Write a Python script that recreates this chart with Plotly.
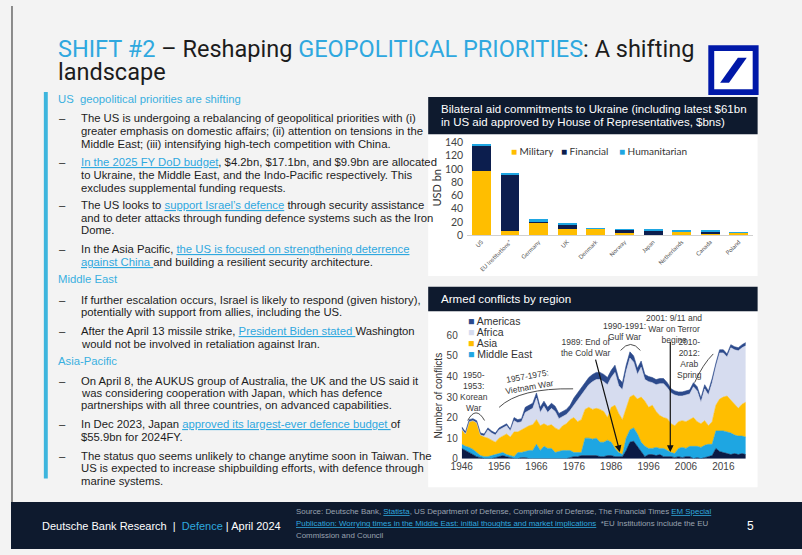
import plotly.graph_objects as go

# ---------------- data ----------------
countries = ["US", "EU Institutions*", "Germany", "UK", "Denmark", "Norway",
             "Japan", "Netherlands", "Canada", "Poland"]
military = [97.5, 6.5, 18.8, 10.0, 9.4, 4.0, 0.1, 4.5, 2.4, 3.3]
financial = [36.5, 84.0, 1.4, 6.3, 0.0, 4.0, 6.0, 0.6, 3.5, 0.4]
humanitarian = [3.5, 3.0, 3.6, 0.5, 0.2, 0.3, 2.2, 1.3, 0.3, 0.1]

years = list(range(1946, 2023))
europe = [5, 4, 3, 2, 1, 0.5, 0, 0, 0, 0.5,
          1, 1.5, 1, 0.5, 0, 0, 0.5, 0.5, 0, 0,
          0, 0, 0, 0, 0, 0, 0, 0, 0, 0.5,
          1, 1, 1.5, 1.5, 1.5, 1.5, 1.5, 1, 1, 1.5,
          1.5, 1, 1, 1, 4, 8, 8.5, 6, 3, 1,
          2, 2, 1.5, 2, 1, 1, 1, 0.5, 1, 0.5,
          1, 1, 0, 0.5, 0, 0.5, 1, 1.5, 5, 3.5,
          3, 2.5, 2, 2.5, 2, 2.5, 2]
middle_east = [2, 2, 2.5, 2.5, 2, 1, 1, 1, 1.5, 1.5,
               1.5, 1.5, 1, 1, 1, 3, 2.5, 3, 4, 4,
               7, 4, 6, 5, 5, 3, 3.5, 4, 4, 3.5,
               2, 2, 1.5, 8.5, 8.5, 8, 8.5, 7, 7, 7.5,
               6.5, 4, 2, 1, 6, 6, 6.5, 6, 5, 5,
               3, 3, 4, 3, 4, 3, 2, 2, 4, 5,
               4, 5, 6, 5.5, 5.5, 6, 6, 5.5, 8.5, 10,
               10.5, 10.5, 10.5, 9, 9, 8.5, 8.5]
asia = [7, 6, 12.5, 14, 14.5, 10, 9.5, 9, 7.5, 6,
        7.5, 8, 10, 9, 12, 10, 11, 11.5, 12, 12.5,
        12, 12, 11, 11, 11.5, 12, 10.5, 12, 13, 15,
        17, 15, 16, 14, 15, 14.5, 14.5, 16, 15, 11,
        17, 21, 19, 17, 14, 16, 16, 17, 22, 22,
        20, 21, 17.5, 16, 15, 15.5, 14, 13.5, 13, 13,
        13, 13, 14, 12, 11.5, 12, 9, 11, 12.5, 15.5,
        16.5, 17.5, 16, 15.5, 13.5, 15.5, 17]
africa = [0.5, 0, 0, 0, 0, 0, 0.5, 4, 3.5, 3.5,
          4, 4, 4, 3, 5.5, 4.5, 4, 7.5, 7.5, 8,
          10.5, 6.5, 8.5, 6.5, 8, 8, 5.5, 4.5, 4.5, 4.5,
          6, 10.5, 12, 9.5, 11, 13.5, 14, 14.5, 14.5, 16,
          14.5, 16, 13.5, 14.5, 18.5, 19, 16, 12, 14.5, 10.5,
          12.5, 11, 13, 15.5, 16.5, 15, 15, 15, 12.5, 12,
          13, 12.5, 15, 15, 10.5, 15.5, 15, 19, 19, 22.5,
          21.5, 19, 25.5, 26, 28, 27.5, 27.5]
americas = [1, 1, 1, 1, 1, 1, 1, 1, 1, 1,
            1, 1, 1, 1, 1.5, 1.5, 1.5, 2.5, 2.5, 2.5,
            2.5, 2.5, 2.5, 2.5, 2.5, 2.5, 2.5, 2.5, 2.5, 2.5,
            3.5, 3.5, 3.5, 3.5, 3.5, 3.5, 3.5, 3.5, 3.5, 3.5,
            3.5, 3.5, 3.5, 3.5, 3, 3, 3, 3, 3, 2.5,
            2.5, 2.5, 2.5, 2.5, 2.5, 2.5, 2, 2, 2, 2,
            2, 2, 2, 2, 2, 2, 2, 2, 1.5, 1.5,
            1.5, 1.5, 1.5, 1.5, 1.5, 1.5, 1.5]
area_ticks = list(range(1946, 2017, 10))

# ---------------- styling ----------------
W, H = 802, 555
NARROW = "Liberation Sans Narrow, Arial Narrow, sans-serif"
LATO = "Lato, sans-serif"
BLUE = "#2fa8df"
NAVY = "#0e1a2e"
TXT = "#1c1c1c"
GOLD = "#FFBE00"
DARKBAR = "#0c1e4e"
LIGHTBLUE = "#1ea6e2"


def px(x):
    return x / W


def py(y):
    return 1 - y / H


fig = go.Figure()

# Bar chart
for name, vals, col in [("Military", military, GOLD),
                        ("Financial", financial, DARKBAR),
                        ("Humanitarian", humanitarian, LIGHTBLUE)]:
    fig.add_trace(go.Bar(x=countries, y=vals, name=name, marker_color=col,
                         marker_line_width=0, width=0.66, showlegend=False,
                         xaxis="x", yaxis="y"))

# Area chart (stacked)
for name, vals, col in [("Europe", europe, "#0a1a45"),
                        ("Middle East", middle_east, LIGHTBLUE),
                        ("Asia", asia, GOLD),
                        ("Africa", africa, "#d6dcef"),
                        ("Americas", americas, "#2c4a8c")]:
    fig.add_trace(go.Scatter(x=years, y=vals, name=name, stackgroup="one",
                             mode="lines", line=dict(width=0.6, color=col),
                             fillcolor=col, showlegend=False,
                             xaxis="x2", yaxis="y2"))

shapes = []


def rect(x0, y0, x1, y1, color, layer="below"):
    shapes.append(dict(type="rect", xref="paper", yref="paper",
                       x0=px(x0), x1=px(x1), y0=py(y1), y1=py(y0),
                       fillcolor=color, line=dict(width=0), layer=layer))


# panels
rect(423, 131, 757, 276, "white")
rect(423, 93, 757, 131, NAVY)
rect(423, 312, 757, 492, "white")
rect(423, 287, 757, 312, NAVY)
rect(33.3, 88, 37.3, 483, "#3db5dd")
rect(0, 507, 802, 555, NAVY, "above")
rect(0, 0, 2, 507, "#8a8a8a")
# logo
rect(707, 40, 758, 91, "#0018a8", "above")
rect(713, 46, 752, 85, "white", "above")
shapes.append(dict(type="path", xref="paper", yref="paper", layer="above",
                   path="M {} {} L {} {} L {} {} L {} {} Z".format(
                       px(719), py(78.5), px(728), py(78.5),
                       px(746), py(53), px(737), py(53)),
                   fillcolor="#0018a8", line=dict(width=0)))

# arcs on area chart (data coordinates)
ARC = dict(color="#3a3a3a", width=0.9)
shapes.append(dict(type="path", xref="x2", yref="y2", line=ARC,
                   path="M 1947.6,18.6 Q 1949.8,26 1952.1,18.6"))
shapes.append(dict(type="path", xref="x2", yref="y2", line=ARC,
                   path="M 1956.0,25.0 Q 1961.5,34.5 1975.8,34.0"))
shapes.append(dict(type="path", xref="x2", yref="y2", line=ARC,
                   path="M 1988.5,52.7 Q 1991.2,58.5 1993.8,52.7"))
shapes.append(dict(type="path", xref="x2", yref="y2", line=ARC,
                   path="M 2008.3,37 Q 2010.5,46 2013.3,51"))

ann = []


def text(x, y, t, size=11.3, color=TXT, font=NARROW, xanchor="left", **kw):
    d = dict(xref="paper", yref="paper", x=px(x), y=py(y), text=t,
             showarrow=False, xanchor=xanchor, yanchor="middle",
             font=dict(family=font, size=size, color=color))
    d.update(kw)
    ann.append(d)


def link(s):
    return "<span style='color:{};text-decoration:underline'>{}</span>".format(BLUE, s)


def blue(s):
    return "<span style='color:{}'>{}</span>".format(BLUE, s)


# title
TITLE_FONT = "Roboto, sans-serif"
text(46, 44, blue("SHIFT #2") + " – Reshaping " + blue("GEOPOLITICAL PRIORITIES") + ": A shifting",
     size=23.5, font=TITLE_FONT)
text(46, 67, "landscape", size=23.5, font=TITLE_FONT)

# left text block
lines = [
    (95, "h", "US  geopolitical priorities are shifting"),
    (114, "b", "The US is undergoing a rebalancing of geopolitical priorities with (i)"),
    (127.7, "c", "greater emphasis on domestic affairs; (ii) attention on tensions in the"),
    (141, "c", "Middle East; (iii) intensifying high-tech competition with China."),
    (159, "b", link("In the 2025 FY DoD budget") + ", $4.2bn, $17.1bn, and $9.9bn are allocated"),
    (172.7, "c", "to Ukraine, the Middle East, and the Indo-Pacific respectively. This"),
    (185.7, "c", "excludes supplemental funding requests."),
    (203.3, "b", "The US looks to " + link("support Israel’s defence") + " through security assistance"),
    (216.7, "c", "and to deter attacks through funding defence systems such as the Iron"),
    (229.3, "c", "Dome."),
    (248.3, "b", "In the Asia Pacific, " + link("the US is focused on strengthening deterrence")),
    (261.7, "c", link("against China ") + "and building a resilient security architecture."),
    (279, "h", "Middle East"),
    (300, "b", "If further escalation occurs, Israel is likely to respond (given history),"),
    (312.7, "c", "potentially with support from allies, including the US."),
    (331.7, "b", "After the April 13 missile strike, " + link("President Biden stated ") + "Washington"),
    (345, "c", "would not be involved in retaliation against Iran."),
    (363.3, "h", "Asia-Pacific"),
    (383.3, "b", "On April 8, the AUKUS group of Australia, the UK and the US said it"),
    (396, "c", "was considering cooperation with Japan, which has defence"),
    (408.3, "c", "partnerships with all three countries, on advanced capabilities."),
    (427.7, "b", "In Dec 2023, Japan " + link("approved its largest-ever defence budget ") + "of"),
    (441, "c", "$55.9bn for 2024FY."),
    (460, "b", "The status quo seems unlikely to change anytime soon in Taiwan. The"),
    (472.3, "c", "US is expected to increase shipbuilding efforts, with defence through"),
    (485.7, "c", "marine systems."),
]
for y, kind, t in lines:
    if kind == "h":
        text(46, y, t, color="#3ab0e0")
    else:
        if kind == "b":
            text(46.5, y, "–")
        text(69.3, y, t)

# chart headers
text(434, 105, "Bilateral aid commitments to Ukraine (including latest $61bn", size=11.5, color="white")
text(434, 118.3, "in US aid approved by House of Representatives, $bns)", size=11.5, color="white")
text(434, 299.3, "Armed conflicts by region", size=11.6, color="white")

# bar chart legend + axis title
for xs, col, name in [(505, GOLD, "Military"), (556, DARKBAR, "Financial"), (614, LIGHTBLUE, "Humanitarian")]:
    text(xs, 148, "<span style='color:{}'>■</span> {}".format(col, name), size=10, font=LATO, color="#333333")
text(431.5, 186, "USD bn", size=11, font=LATO, color="#333333", xanchor="center", textangle=-90)

# area chart legend + axis title
for yy, col, name in [(321.7, "#2c4a8c", "Americas"), (333, "#d6dcef", "Africa"),
                      (344.3, GOLD, "Asia"), (355.7, LIGHTBLUE, "Middle East")]:
    text(461, yy, "<span style='color:{}'>■</span> {}".format(col, name), size=10.5, color="#333333")
text(433, 398, "Number of conflicts", size=10, color="#333333", xanchor="center", textangle=-90)

# area chart event annotations (data coords)
AN = dict(family=NARROW, size=8.5, color="#3a3a3a")


def dtext(x, y, t, **kw):
    d = dict(xref="x2", yref="y2", x=x, y=y, text=t, showarrow=False,
             xanchor="center", yanchor="middle", font=AN, align="center")
    d.update(kw)
    ann.append(d)


dtext(1949.4, 32.6, "1950-<br>1953:<br>Korean<br>War")
dtext(1963.9, 37.8, "1957-1975:<br>Vietnam War", textangle=-10)
dtext(1979.1, 54.0, "1989: End of<br>the Cold War")
dtext(1989.5, 61.8, "1990-1991:<br>Gulf War")
dtext(2002.9, 63.2, "2001: 9/11 and<br>War on Terror<br>begins")
dtext(2006.9, 49.0, "2010-<br>2012:<br>Arab<br>Spring")


def arrow(x, y, axv, ayv):
    ann.append(dict(xref="x2", yref="y2", axref="x2", ayref="y2", x=x, y=y,
                    ax=axv, ay=ayv, text="", showarrow=True, arrowhead=2,
                    arrowsize=1.1, arrowwidth=1.2, arrowcolor="#111111"))


arrow(1988.3, 3.3, 1981.7, 48.9)
arrow(2001.8, 3.3, 2001.8, 57.6)

# footer
text(29, 531, "Deutsche Bank Research  |  " + blue("Defence") + " | April 2024", size=11, color="white")
SRC = "#9aa3b0"
text(287, 517, "Source: Deutsche Bank, " + link("Statista") +
     ", US Department of Defense, Comptroller of Defense, The Financial Times " + link("EM Special"),
     size=7.9, color=SRC)
text(287, 529, link("Publication: Worrying times in the Middle East: initial thoughts and market implications") +
     "  *EU Institutions include the EU", size=7.9, color=SRC)
text(287, 541, "Commission and Council", size=7.9, color=SRC)
text(750, 531, "5", size=12, color="white", xanchor="center")

fig.update_layout(
    width=W, height=H, margin=dict(l=0, r=0, t=0, b=0),
    paper_bgcolor="#f3f3f3", plot_bgcolor="rgba(0,0,0,0)",
    barmode="stack", bargap=0.34,
    shapes=shapes, annotations=ann,
    xaxis=dict(domain=[px(462.5), px(752.5)], anchor="y", type="category",
               range=[-0.5, 9.5], tickangle=-45, tickfont=dict(family=LATO, size=6, color="#555555"),
               showline=True, linecolor="#d0d0d0", linewidth=1, ticks="", showgrid=False,
               fixedrange=True),
    yaxis=dict(domain=[py(234.3), py(139.3)], anchor="x", range=[0, 140], dtick=20,
               tickfont=dict(family=LATO, size=10.5, color="#444444"), showgrid=False,
               zeroline=False, showline=False, ticks="", ticklabelstandoff=3),
    xaxis2=dict(domain=[px(457), px(745)], anchor="y2", range=[1946, 2022],
                tickvals=area_ticks, tickfont=dict(family=NARROW, size=10, color="#444444"),
                showgrid=False, zeroline=False, showline=False, ticks=""),
    yaxis2=dict(domain=[py(462.7), py(328.3)], anchor="x2", range=[0, 64], dtick=10,
                tickfont=dict(family=NARROW, size=10, color="#444444"), showgrid=False,
                zeroline=False, showline=False, ticks="", ticklabelstandoff=3),
)

POST = ("document.documentElement.style.margin='0';"
        "document.documentElement.style.overflow='hidden';"
        "document.body.style.margin='0';document.body.style.padding='0';"
        "document.body.style.overflow='hidden';"
        "var d=document.getElementById('{plot_id}');"
        "d.style.position='fixed';d.style.left='0px';d.style.top='0px';"
        "window.scrollTo(0,0);")
fig.write_html("out.html", config={"displayModeBar": False}, post_script=POST)
